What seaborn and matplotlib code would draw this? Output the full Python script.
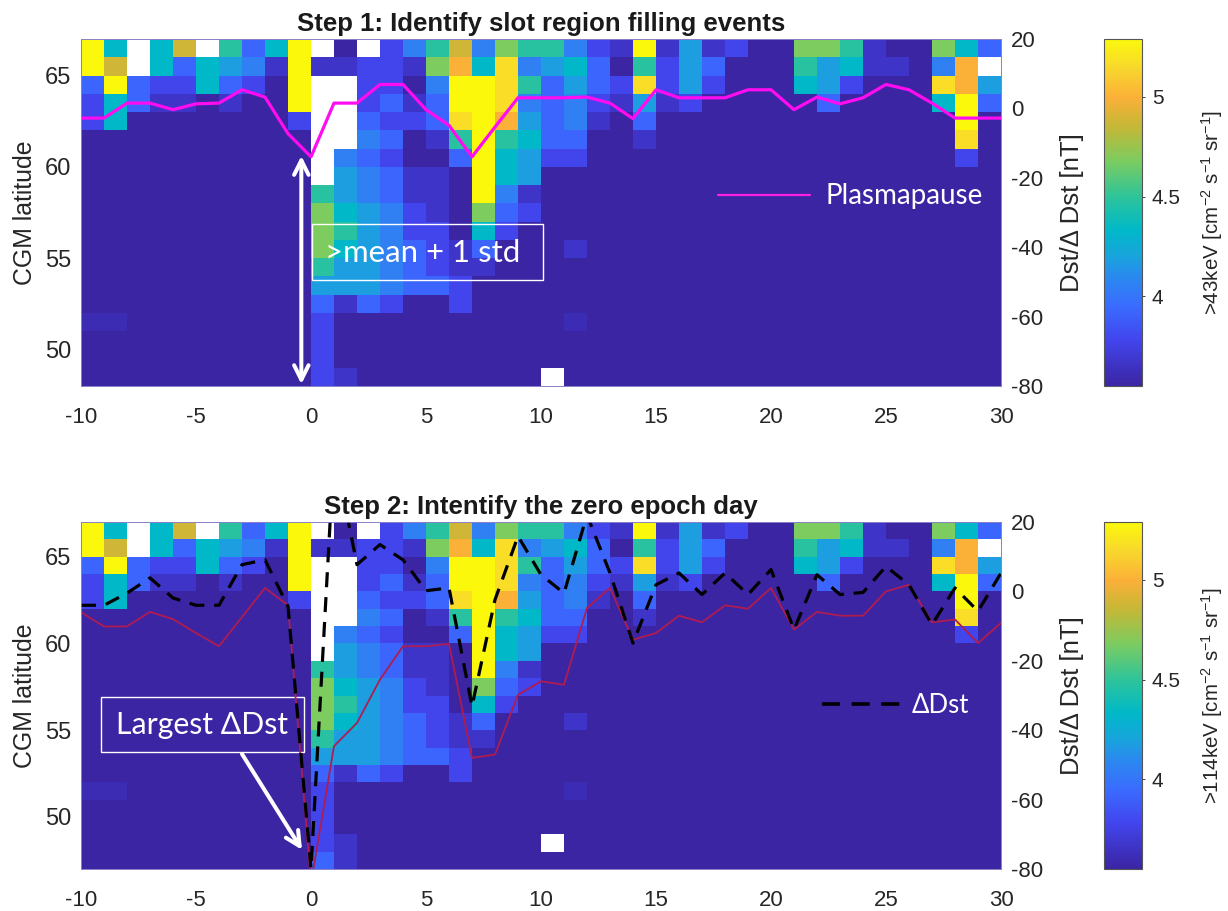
import numpy as np
import matplotlib
matplotlib.use("Agg")
import matplotlib.pyplot as plt
import seaborn as sns
from matplotlib.colors import LinearSegmentedColormap
from matplotlib.patches import Rectangle

# Flux levels, one letter per colour band
flux_levels = {"D": 3.55, "e": 3.6, "d": 3.66, "i": 3.78, "b": 3.92, "B": 4.05, "s": 4.18,
               "c": 4.33, "t": 4.48, "g": 4.68, "o": 4.88, "O": 5.0, "y": 5.17, "Y": 5.29, ".": np.nan}

# Rows from 67 down to 47 degrees, columns are days -10 to 29
flux_rows = [
    "Yc.co.tbcY.D.iBtoBgttBidYdsdiDDggtdDDgcb",
    "Yo.cbcsBdYddiidgOcyBscbDtisbDDDtscddDBO.",
    "bYbiicbiDY..iiDBYYytbsbiyisiDDDcsiDDDyOs",
    "icbddDdDDY..ibdbYYyBbBidsdiDDDDDbDDDDcYb",
    "icDDDDDDDi..biibyYOsbBdDbDDDDDDDDDDDDDYD",
    "DDDDDDDDDD..BbDdtYtcbbDDdDDDDDDDDDDDDDyD",
    "DDDDDDDDDD.BbiDDbYcsiiDDDDDDDDDDDDDDDDiD",
    "DDDDDDDDDD.sBbddDYcsDDDDDDDDDDDDDDDDDDDD",
    "DDDDDDDDDDtsBbddDYBdDDDDDDDDDDDDDDDDDDDD",
    "DDDDDDDDDDgcsBidDgbiDDDDDDDDDDDDDDDDDDDD",
    "DDDDDDDDDDgtsBiiDciDDDDDDDDDDDDDDDDDDDDD",
    "DDDDDDDDDDgcsBbidbDDDdDDDDDDDDDDDDDDDDDD",
    "DDDDDDDDDDtssBbiddDDDDDDDDDDDDDDDDDDDDDD",
    "DDDDDDDDDDsssBbbiDDDDDDDDDDDDDDDDDDDDDDD",
    "DDDDDDDDDDbdbiDDiDDDDDDDDDDDDDDDDDDDDDDD",
    "eeDDDDDDDDiDDDDDDDDDDeDDDDDDDDDDDDDDDDDD",
    "DDDDDDDDDDiDDDDDDDDDDDDDDDDDDDDDDDDDDDDD",
    "DDDDDDDDDDiDDDDDDDDDDDDDDDDDDDDDDDDDDDDD",
    "DDDDDDDDDDidDDDDDDDD.DDDDDDDDDDDDDDDDDDD",
    "DDDDDDDDDDbdDDDDDDDDDDDDDDDDDDDDDDDDDDDD",
]

days = list(range(-10, 31))
plasmapause = [62.67, 62.67, 63.49, 63.49, 63.13, 63.45, 63.49, 64.22, 63.82, 61.82, 60.55,
               63.49, 63.49, 64.51, 64.51, 63.13, 62.27, 60.55, 62.18, 63.78, 63.78,
               63.78, 63.82, 63.49, 62.64, 64.22, 63.78, 63.78, 63.78, 64.22, 64.22,
               63.13, 63.82, 63.45, 63.78, 64.51, 64.22, 63.49, 62.67, 62.67, 62.67]
dst = [-6, -10.1, -10.1, -5.9, -8, -12, -15.8, -7.4, 1, -4, -84,
       -44.6, -37.9, -25.4, -15.8, -15.8, -15.1, -48, -47, -29.8, -25.9,
       -26.9, -4.8, 1, -13.9, -12, -7, -8.9, -4, -5, 1,
       -11, -5.9, -7, -7, 0, 1.9, -8.9, -8.1, -14.9, -9.1]
delta_dst = [-4, -4, -0.5, 3.9, -1.9, -4, -4, 7.7, 9.1, -4.3, -80,
             40.4, 7.7, 13.5, 9.1, 0.2, 1, -33.1, -2.4, 15.9, 4.8,
             -0.5, 22, 5.3, -14.9, 1.9, 5.3, -0.9, 5.3, -0.9, 6.3,
             -11, 4.8, -0.9, -0.3, 7.2, 1.9, -9.6, 1, -5.7, 5.3]

lat_ticks = [50, 55, 60, 65]
dst_ticks = [-80, -60, -40, -20, 0, 20]
day_ticks = [-10, -5, 0, 5, 10, 15, 20, 25, 30]
cbar_ticks = [4, 4.5, 5]

sns.set_theme(style="ticks")
plt.rcParams["font.family"] = ["Liberation Sans", "DejaVu Sans"]
plt.rcParams["mathtext.default"] = "regular"
plt.rcParams["axes.unicode_minus"] = False
plt.rcParams["text.color"] = "#262626"
plt.rcParams["axes.labelcolor"] = "#262626"
label_font = ["Lato", "DejaVu Sans"]

flux = np.array([[flux_levels[ch] for ch in row] for row in flux_rows])

# Colour stops taken from the colorbar in the picture
vmin, vmax = 3.55, 5.29
stops = [(3.55, "#3b25a3"), (3.78, "#4245ee"), (3.95, "#3a6cff"), (4.1, "#2a8aee"), (4.2, "#18a4dc"),
         (4.33, "#00b8c8"), (4.5, "#2ec49a"), (4.68, "#7ccc60"), (4.85, "#c4b836"), (5.0, "#fbb038"),
         (5.15, "#f8d82c"), (5.29, "#fbf80c")]
flux_cmap = LinearSegmentedColormap.from_list("flux", [((v - vmin) / (vmax - vmin), c) for v, c in stops])

W, H = 1228, 911
fig = plt.figure(figsize=(W / 100, H / 100), dpi=100)


def px_box(x0, y0, x1, y1):
    # pixel box (y from the top) to figure fractions
    return [x0 / W, 1 - y1 / H, (x1 - x0) / W, (y1 - y0) / H]


def draw_panel(y0, y1, data, lat_min, title, cbar_label):
    heat_ax = fig.add_axes(px_box(81, y0, 1001, y1))
    cbar_ax = fig.add_axes(px_box(1104, y0, 1142, y1))
    sns.heatmap(data, ax=heat_ax, cbar_ax=cbar_ax, cmap=flux_cmap, vmin=vmin, vmax=vmax,
                xticklabels=False, yticklabels=False)
    heat_ax.set_axis_off()

    cbar = heat_ax.collections[0].colorbar
    cbar.set_ticks(cbar_ticks, labels=["4", "4.5", "5"])
    cbar.ax.tick_params(labelsize=15, length=2, width=0.6, pad=5, colors="#262626")
    cbar.set_label(cbar_label, fontsize=14.8, labelpad=13)
    cbar.outline.set_visible(True)
    cbar.outline.set_edgecolor("#555555")
    cbar.outline.set_linewidth(0.8)

    lat_ax = fig.add_axes(px_box(81, y0, 1001, y1), facecolor="none")
    lat_ax.set_xlim(-10, 30)
    lat_ax.set_ylim(lat_min, 67)
    lat_ax.set_xticks(day_ticks)
    lat_ax.set_yticks(lat_ticks)
    lat_ax.set_ylabel("CGM latitude", fontsize=17.9, labelpad=6)
    lat_ax.set_title(title, fontsize=18.5, fontweight="bold", pad=6, color="#1a1a1a")

    dst_ax = lat_ax.twinx()
    dst_ax.set_ylim(-80, 20)
    dst_ax.set_yticks(dst_ticks)
    dst_ax.set_ylabel("Dst/\u0394 Dst [nT]", fontsize=18.5, labelpad=12)

    lat_ax.tick_params(axis="x", labelsize=16, length=0, pad=15, colors="#262626")
    lat_ax.tick_params(axis="y", labelsize=17, length=0, pad=7, colors="#262626")
    dst_ax.tick_params(axis="y", labelsize=16, length=0, pad=7, colors="#262626")
    for ax in (lat_ax, dst_ax):
        for sp in ax.spines.values():
            sp.set_color("#8a80c8")
            sp.set_linewidth(0.6)
    return lat_ax, dst_ax


dash_style = (0, (4.7, 3.1))

# --- Step 1 ---
lat_ax, dst_ax = draw_panel(39, 386, flux[:19], 48, "Step 1: Identify slot region filling events",
                            ">43keV [cm$^{-2}$ s$^{-1}$ sr$^{-1}$]")
sns.lineplot(x=days, y=plasmapause, ax=lat_ax, color="#ff0cf0", linewidth=2.3, estimator=None)
lat_ax.annotate("", xy=(-0.42, 48.1), xytext=(-0.42, 60.6),
                arrowprops=dict(arrowstyle="<->", color="white", lw=2.9, mutation_scale=26, shrinkA=0, shrinkB=0))
lat_ax.add_patch(Rectangle((0.04, 53.8), 10.05, 3.07, fill=False, edgecolor="white", lw=1))
lat_ax.text(0.6, 55.3, ">mean + 1 std", color="white", fontsize=22.4, family=label_font, va="center")
lat_ax.plot([17.7, 21.7], [58.46, 58.46], color="#ff20e0", lw=1.6)
lat_ax.text(22.35, 58.4, "Plasmapause", color="white", fontsize=20, family=label_font, va="center")

# --- Step 2 ---
lat_ax, dst_ax = draw_panel(522, 869, flux, 47, "Step 2: Intentify the zero epoch day",
                            ">114keV [cm$^{-2}$ s$^{-1}$ sr$^{-1}$]")
sns.lineplot(x=days, y=dst, ax=dst_ax, color="#b01c50", linewidth=1.3, estimator=None)
sns.lineplot(x=days, y=delta_dst, ax=dst_ax, color="black", linewidth=2.3, linestyle=dash_style, estimator=None)
lat_ax.add_patch(Rectangle((-9.13, 53.74), 8.83, 3.17, fill=False, edgecolor="white", lw=1))
lat_ax.text(-8.48, 55.3, "Largest \u0394Dst", color="white", fontsize=21.8, family=label_font, va="center")
lat_ax.annotate("", xy=(-0.39, 48.1), xytext=(-3, 53.63),
                arrowprops=dict(arrowstyle="->", color="white", lw=2.9, mutation_scale=26, shrinkA=0, shrinkB=0))
lat_ax.plot([22.2, 25.6], [56.5, 56.5], color="black", lw=2.6, linestyle=(0, (5, 3.2)))
lat_ax.text(26.1, 56.45, "\u0394Dst", color="white", fontsize=18.5, family=label_font, va="center")

fig.savefig("out.png", dpi=100)
